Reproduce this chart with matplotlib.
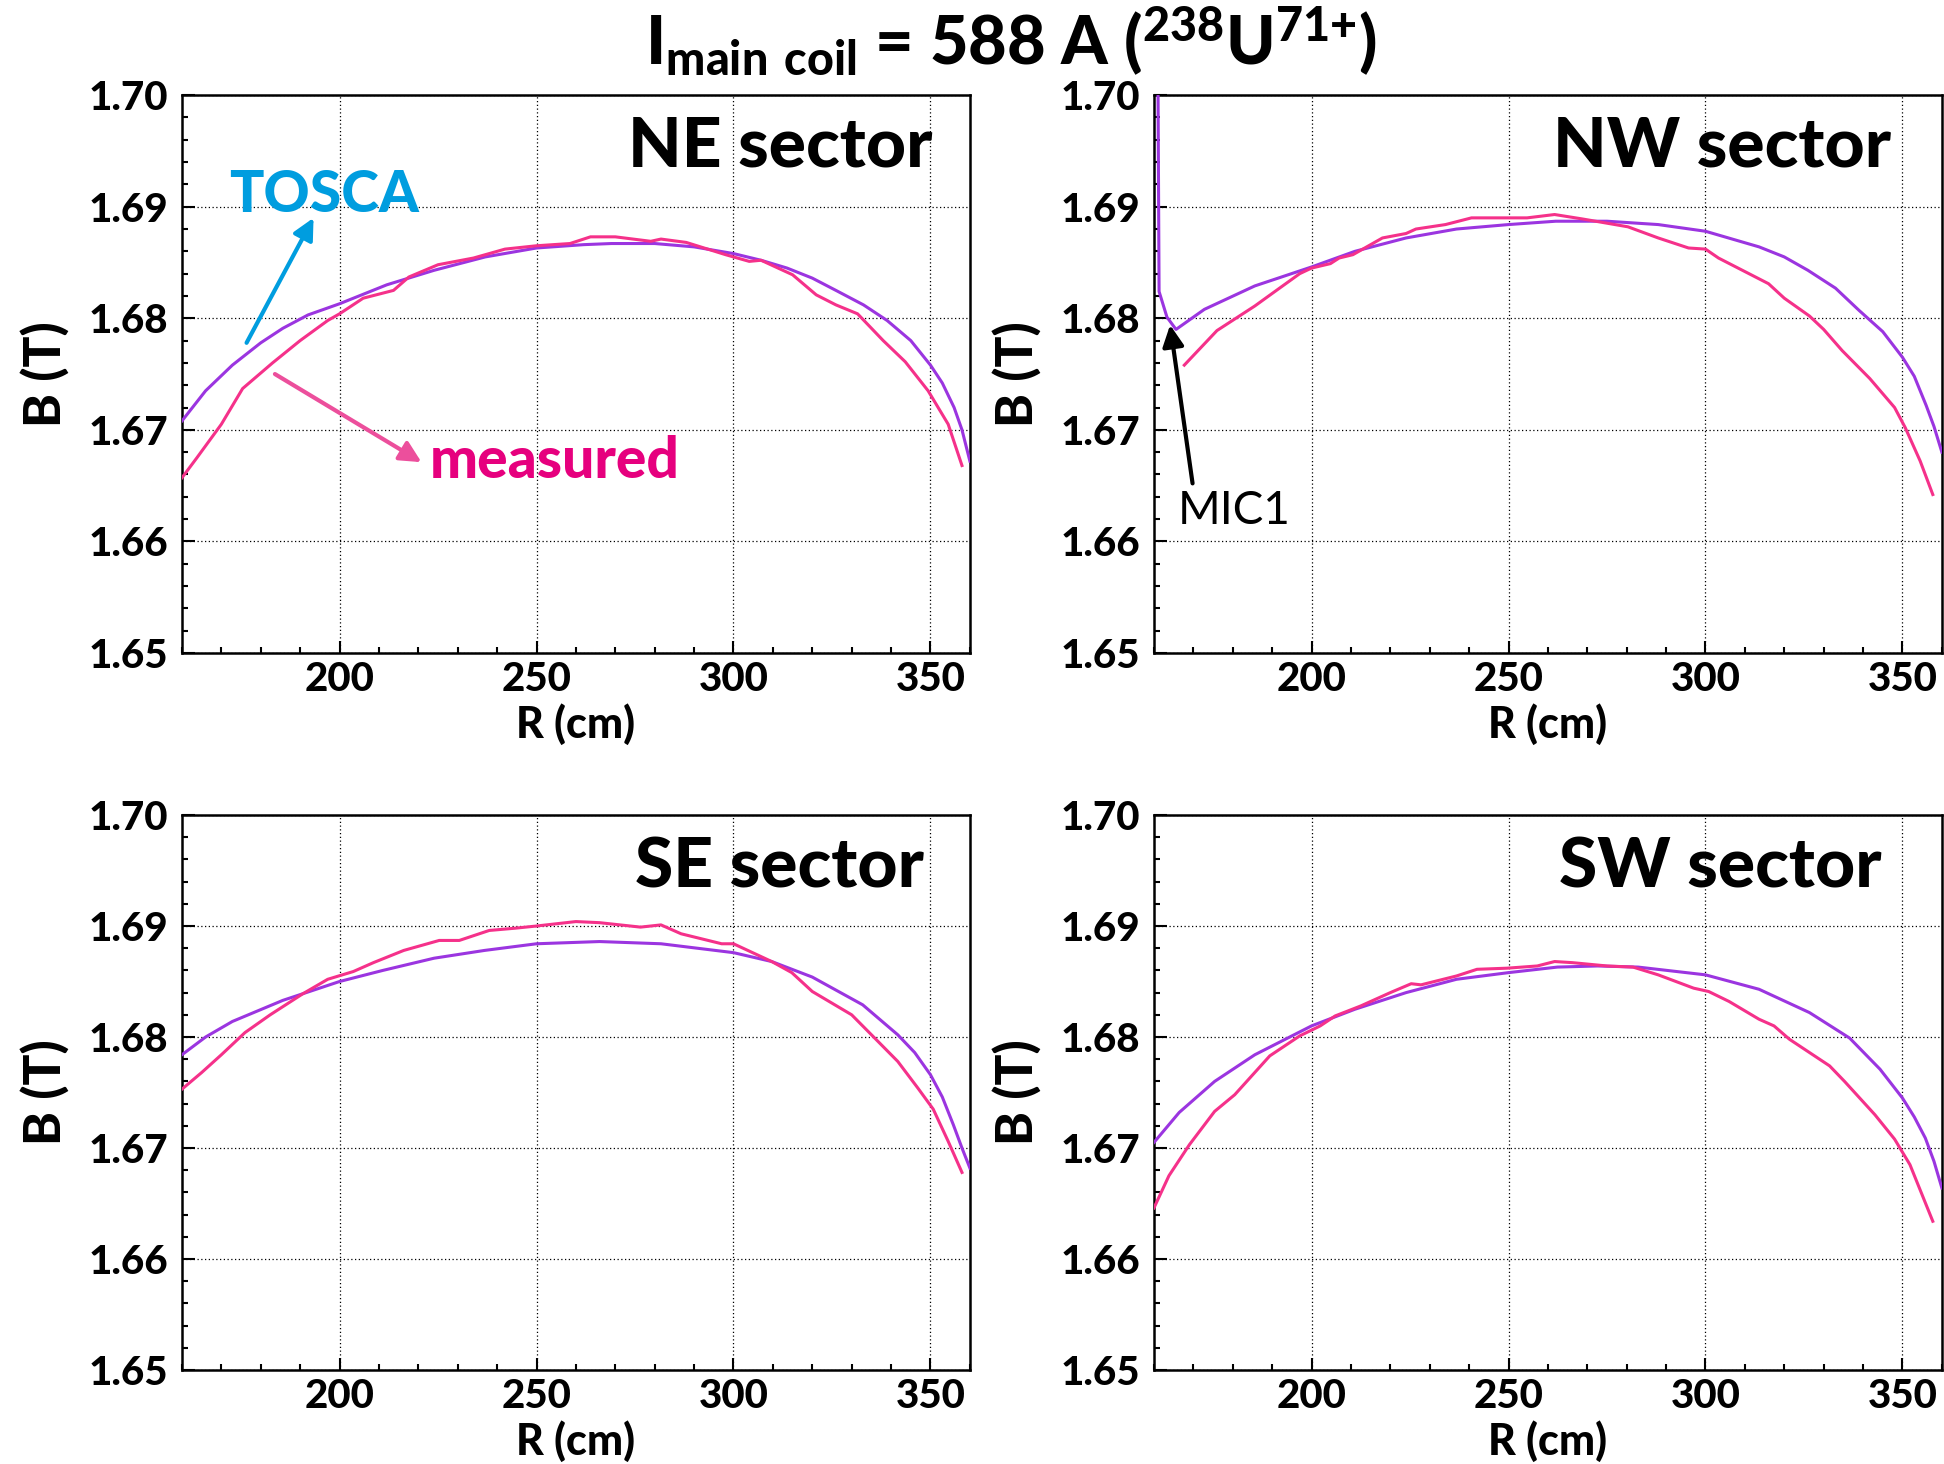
import matplotlib
matplotlib.use('Agg')
import matplotlib.pyplot as plt
from matplotlib.ticker import MultipleLocator

plt.rcParams['font.family'] = ['Lato', 'DejaVu Sans']
plt.rcParams['font.weight'] = 'black'

# ---- data ----
# NE sector
r_tosca_ne = [160, 166, 172.8, 180, 185.6, 192, 200, 212, 224, 237, 250, 262, 269, 280, 290, 300,
              307, 313.6, 320, 326, 333, 339, 345, 350, 353, 356, 358, 360]
b_tosca_ne = [1.6708, 1.6735, 1.6758, 1.6778, 1.6791, 1.6803, 1.6813, 1.6830, 1.6843, 1.6855, 1.6863,
              1.6866, 1.6867, 1.6867, 1.6864, 1.6858, 1.6852, 1.6845, 1.6836, 1.6825, 1.6812, 1.6798,
              1.6780, 1.6758, 1.6742, 1.6720, 1.6700, 1.6672]
r_meas_ne = [160, 163.8, 170, 175.4, 183, 190, 197, 200, 206, 213.7, 217.6, 225, 234, 242, 250, 258.5,
             263.7, 270, 279, 281.6, 288, 298, 304, 307, 315, 321, 326, 331.5, 338, 343.6, 349.4,
             354.5, 358]
b_meas_ne = [1.6657, 1.6675, 1.6705, 1.6737, 1.6760, 1.6780, 1.6798, 1.6804, 1.6818, 1.6825, 1.6837,
             1.6848, 1.6854, 1.6862, 1.6865, 1.6867, 1.6873, 1.6873, 1.6869, 1.6871, 1.6868, 1.6857,
             1.6851, 1.6852, 1.6839, 1.6821, 1.6812, 1.6804, 1.6780, 1.6761, 1.6735, 1.6705, 1.6668]

# NW sector
r_tosca_nw = [160.3, 161.3, 163.3, 165.6, 172.8, 185.6, 200, 211, 224, 236.8, 250, 262, 275, 288, 300,
              313.6, 320, 326, 333, 339, 345, 350, 353, 356, 358, 360]
b_tosca_nw = [1.75, 1.6824, 1.6801, 1.6790, 1.6808, 1.6829, 1.6846, 1.6860, 1.6872, 1.6880, 1.6884,
              1.6887, 1.6887, 1.6884, 1.6878, 1.6864, 1.6855, 1.6843, 1.6827, 1.6807, 1.6788, 1.6765,
              1.6748, 1.6722, 1.6703, 1.6680]
r_meas_nw = [167.7, 176, 185.6, 190.7, 197, 200, 204.8, 207, 210.5, 218, 224, 226.5, 234, 240.6, 249.6,
             254.7, 261.7, 268.8, 280.3, 288, 295.7, 300, 303.3, 316, 320, 326.4, 330, 334.7, 341.7,
             348, 350.7, 354.5, 357.7]
b_meas_nw = [1.6758, 1.6789, 1.6811, 1.6824, 1.6840, 1.6845, 1.6849, 1.6854, 1.6857, 1.6872, 1.6876,
             1.6880, 1.6884, 1.6890, 1.6890, 1.6890, 1.6893, 1.6889, 1.6882, 1.6872, 1.6863, 1.6862,
             1.6854, 1.6831, 1.6818, 1.6802, 1.6790, 1.6771, 1.6746, 1.6720, 1.6702, 1.6672, 1.6642]

# SE sector
r_tosca_se = [160, 166, 172.8, 185.6, 200, 211, 224, 236.8, 250, 266, 281.6, 300, 309.7, 320, 332.8,
              341.7, 346, 350, 353, 355.8, 358, 360]
b_tosca_se = [1.6784, 1.6800, 1.6814, 1.6833, 1.6850, 1.6860, 1.6871, 1.6878, 1.6884, 1.6886, 1.6884,
              1.6876, 1.6868, 1.6854, 1.6829, 1.6802, 1.6786, 1.6766, 1.6746, 1.6721, 1.6700, 1.6682]
r_meas_se = [160, 165, 170, 176, 182.4, 190.7, 197, 203.5, 208.6, 216.3, 225.3, 230.4, 238, 244.5, 250,
             260, 266, 276.4, 281.6, 286.7, 297, 300, 309.7, 314.8, 320, 330, 335.3, 341.7, 346.8,
             350.7, 354.5, 358]
b_meas_se = [1.6753, 1.6768, 1.6784, 1.6804, 1.6820, 1.6839, 1.6852, 1.6859, 1.6867, 1.6878, 1.6887,
             1.6887, 1.6896, 1.6898, 1.6900, 1.6904, 1.6903, 1.6899, 1.6901, 1.6893, 1.6884, 1.6884,
             1.6868, 1.6858, 1.6841, 1.6820, 1.6801, 1.6778, 1.6754, 1.6735, 1.6706, 1.6678]

# SW sector
r_tosca_sw = [160, 166.4, 175.4, 185.6, 200, 211, 224, 236.8, 250, 262.4, 272.6, 282.9, 300, 313.6,
              326.4, 336.6, 344.3, 350, 353, 355.8, 358, 360]
b_tosca_sw = [1.6705, 1.6732, 1.6760, 1.6784, 1.6810, 1.6825, 1.6840, 1.6852, 1.6858, 1.6863, 1.6864,
              1.6863, 1.6856, 1.6843, 1.6822, 1.6799, 1.6771, 1.6745, 1.6728, 1.6709, 1.6688, 1.6664]
r_meas_sw = [160, 163.8, 169, 175.4, 180.5, 189.4, 197, 202.2, 206, 212.5, 220, 225.3, 227.8, 236.8,
             242, 249.6, 257.3, 261.7, 266.2, 275, 281.6, 288, 297, 300.8, 306, 313.6, 317.4, 321.3,
             331.5, 335.3, 343, 348, 351.9, 357.7]
b_meas_sw = [1.6646, 1.6675, 1.6703, 1.6733, 1.6748, 1.6783, 1.6801, 1.6810, 1.6819, 1.6828, 1.6840,
             1.6848, 1.6847, 1.6855, 1.6861, 1.6862, 1.6864, 1.6868, 1.6867, 1.6864, 1.6863, 1.6856,
             1.6844, 1.6841, 1.6832, 1.6816, 1.6810, 1.6798, 1.6774, 1.6760, 1.6730, 1.6708, 1.6685,
             1.6634]

sectors = ['NE sector', 'NW sector', 'SE sector', 'SW sector']
tosca = [(r_tosca_ne, b_tosca_ne), (r_tosca_nw, b_tosca_nw), (r_tosca_se, b_tosca_se), (r_tosca_sw, b_tosca_sw)]
meas = [(r_meas_ne, b_meas_ne), (r_meas_nw, b_meas_nw), (r_meas_se, b_meas_se), (r_meas_sw, b_meas_sw)]
y_ticks = [1.65, 1.66, 1.67, 1.68, 1.69, 1.70]
x_ticks = [200, 250, 300, 350]

c_tosca = '#9b35e0'
c_meas = '#f5318a'

fig = plt.figure(figsize=(19.44, 14.64), dpi=100)
positions = [[0.0936, 0.554, 0.4053, 0.381], [0.5936, 0.554, 0.4053, 0.381],
             [0.0936, 0.0642, 0.4053, 0.3791], [0.5936, 0.0642, 0.4053, 0.3791]]
label_x = [0.953, 0.935, 0.942, 0.923]
label_y = [0.907, 0.907, 0.904, 0.904]

axes = []
for i in range(4):
    ax = fig.add_axes(positions[i])
    ax.plot(*tosca[i], color=c_tosca, lw=2.2, zorder=3)
    ax.plot(*meas[i], color=c_meas, lw=2.2, zorder=4)
    ax.set_xlim(160, 360)
    ax.set_ylim(1.65, 1.70)
    ax.set_xticks(x_ticks)
    ax.set_yticks(y_ticks)
    ax.set_yticklabels([f'{v:.2f}' for v in y_ticks])
    ax.xaxis.set_minor_locator(MultipleLocator(10))
    ax.yaxis.set_minor_locator(MultipleLocator(0.002))
    ax.tick_params(which='both', direction='in', top=False, right=False, labelsize=29, width=1.5)
    ax.tick_params(which='major', length=9)
    ax.tick_params(which='minor', length=4.5)
    ax.tick_params(axis='y', pad=10)
    ax.tick_params(axis='x', pad=6)
    ax.grid(True, which='major', color='black', lw=0.9, linestyle=(0, (1, 2)))
    for s in ax.spines.values():
        s.set_linewidth(1.8)
    ax.set_xlabel('R (cm)', fontsize=31, fontweight='black', va='center')
    ax.set_ylabel('B (T)', fontsize=37, fontweight='black', va='center')
    ax.xaxis.set_label_coords(0.5, -0.128)
    ax.yaxis.set_label_coords(-0.172, 0.5)
    ax.text(label_x[i], label_y[i], sectors[i], transform=ax.transAxes, ha='right', va='center',
            fontsize=50)
    axes.append(ax)

# annotations
ax = axes[0]
ax.text(172, 1.691, 'TOSCA', color='#009ddf', fontsize=41, va='center', ha='left')
ax.annotate('', xy=(193.4, 1.6890), xytext=(176.4, 1.6778),
            arrowprops=dict(arrowstyle='-|>', color='#009ddf', lw=3, mutation_scale=32,
                            shrinkA=0, shrinkB=0))
ax.text(223, 1.6672, 'measured', color='#e6007e', fontsize=41, va='center', ha='left')
ax.annotate('', xy=(220.8, 1.6671), xytext=(183.6, 1.6750),
            arrowprops=dict(arrowstyle='-|>', color='#ec4f9c', lw=3, mutation_scale=32,
                            shrinkA=0, shrinkB=0))

ax = axes[1]
ax.text(166, 1.6627, 'MIC1', color='black', fontsize=33, fontweight='normal', va='center', ha='left')
ax.annotate('', xy=(164.1, 1.6794), xytext=(169.8, 1.6652),
            arrowprops=dict(arrowstyle='-|>', color='black', lw=3, mutation_scale=32,
                            shrinkA=0, shrinkB=0))

fig.text(0.52, 0.972, r'$\mathregular{I_{main\ coil}}$ = 588 A ($\mathregular{^{238}U^{71{+}}}$)',
         ha='center', va='center', fontsize=48)

fig.savefig('out.png', dpi=100)
